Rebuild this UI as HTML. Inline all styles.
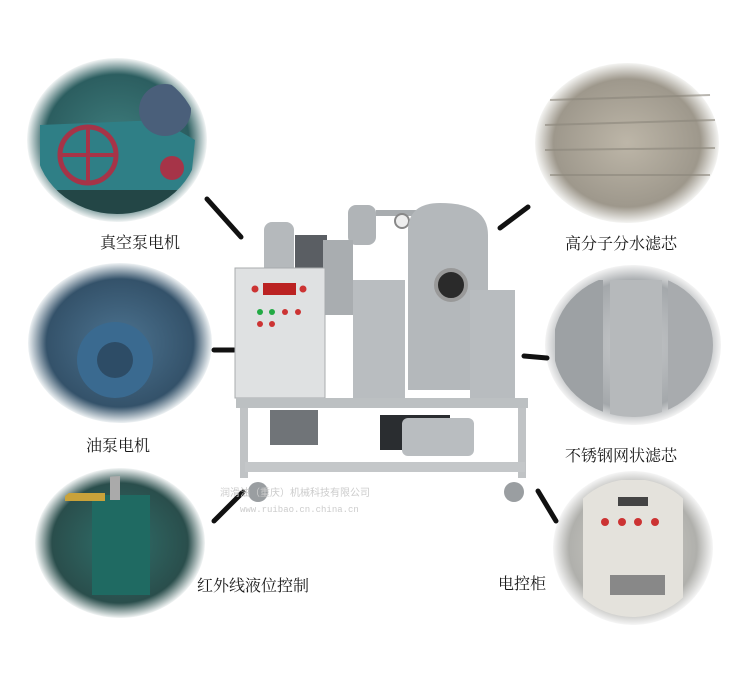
<!DOCTYPE html>
<html><head><meta charset="utf-8"><style>
html,body{margin:0;padding:0;background:#fff;}
body{width:732px;height:684px;overflow:hidden;position:relative;}
.l{position:absolute;font-size:16px;color:#1a1a1a;white-space:nowrap;font-family:"Liberation Serif","Noto Serif CJK SC",serif;}
</style></head><body>
<svg width="732" height="684" viewBox="0 0 732 684" style="position:absolute;left:0;top:0">
<defs>
<radialGradient id="g1"><stop offset="0" stop-color="#3d7c7c"/><stop offset="0.8" stop-color="#2c5e60"/><stop offset="1" stop-color="#f2f5f5"/></radialGradient>
<radialGradient id="g2"><stop offset="0" stop-color="#4c7390"/><stop offset="0.8" stop-color="#34526a"/><stop offset="1" stop-color="#eef2f4"/></radialGradient>
<radialGradient id="g3"><stop offset="0" stop-color="#2f6f6a"/><stop offset="0.8" stop-color="#2a4e4c"/><stop offset="1" stop-color="#f2f5f5"/></radialGradient>
<radialGradient id="g4"><stop offset="0" stop-color="#bdb6a8"/><stop offset="0.8" stop-color="#9e988c"/><stop offset="1" stop-color="#f4f4f2"/></radialGradient>
<radialGradient id="g5"><stop offset="0" stop-color="#c8cacc"/><stop offset="0.8" stop-color="#a4a8ab"/><stop offset="1" stop-color="#f4f4f4"/></radialGradient>
<radialGradient id="g6"><stop offset="0" stop-color="#d4d2cc"/><stop offset="0.8" stop-color="#b0b0ac"/><stop offset="1" stop-color="#f6f6f6"/></radialGradient>
<clipPath id="c1"><ellipse cx="117" cy="140" rx="82" ry="74"/></clipPath>
<clipPath id="c2"><ellipse cx="120" cy="343" rx="84" ry="72"/></clipPath>
<clipPath id="c3"><ellipse cx="120" cy="543" rx="77" ry="67"/></clipPath>
<clipPath id="c5"><ellipse cx="633" cy="345" rx="80" ry="72"/></clipPath>
<clipPath id="c6"><ellipse cx="633" cy="548" rx="72" ry="69"/></clipPath>
</defs>
<ellipse cx="117" cy="140" rx="90" ry="82" fill="url(#g1)"/>
<g clip-path="url(#c1)">
<path d="M40 125 L160 120 L195 140 L190 190 L40 190 Z" fill="#2f7f86"/>
<circle cx="88" cy="155" r="28" fill="none" stroke="#a63448" stroke-width="5"/>
<line x1="60" y1="155" x2="116" y2="155" stroke="#a63448" stroke-width="4"/>
<line x1="88" y1="127" x2="88" y2="183" stroke="#a63448" stroke-width="4"/>
<circle cx="172" cy="168" r="12" fill="#a63448"/>
<circle cx="165" cy="110" r="26" fill="#4a5f7a"/>
<rect x="40" y="190" width="160" height="30" fill="#234646"/>
</g>
<ellipse cx="120" cy="343" rx="92" ry="80" fill="url(#g2)"/>
<g clip-path="url(#c2)"><circle cx="115" cy="360" r="38" fill="#3a6a90"/><circle cx="115" cy="360" r="18" fill="#2d4c66"/></g>
<ellipse cx="120" cy="543" rx="85" ry="75" fill="url(#g3)"/>
<g clip-path="url(#c3)"><rect x="92" y="495" width="58" height="100" fill="#1f6a62"/><rect x="65" y="493" width="40" height="8" fill="#c9a23a"/><rect x="110" y="470" width="10" height="30" fill="#aaa"/></g>
<ellipse cx="627" cy="143" rx="92" ry="80" fill="url(#g4)"/>
<g stroke="#8c877c" stroke-width="2" opacity="0.6"><line x1="550" y1="100" x2="710" y2="95"/><line x1="545" y1="125" x2="715" y2="120"/><line x1="545" y1="150" x2="715" y2="148"/><line x1="550" y1="175" x2="710" y2="175"/></g>
<ellipse cx="633" cy="345" rx="88" ry="80" fill="url(#g5)"/>
<g clip-path="url(#c5)"><rect x="555" y="280" width="48" height="140" fill="#9da1a4"/><rect x="610" y="280" width="52" height="145" fill="#b6b9bb"/><rect x="668" y="280" width="48" height="140" fill="#a8abae"/></g>
<ellipse cx="633" cy="548" rx="80" ry="77" fill="url(#g6)"/>
<g clip-path="url(#c6)"><rect x="583" y="480" width="100" height="140" fill="#e4e2dc"/>
<rect x="618" y="497" width="30" height="9" fill="#444"/>
<g fill="#c33"><circle cx="605" cy="522" r="4"/><circle cx="622" cy="522" r="4"/><circle cx="638" cy="522" r="4"/><circle cx="655" cy="522" r="4"/></g>
<rect x="610" y="575" width="55" height="20" fill="#888"/></g>
<g stroke="#111" stroke-width="5" stroke-linecap="round">
<line x1="207" y1="199" x2="241" y2="237"/>
<line x1="214" y1="350" x2="234" y2="350"/>
<line x1="214" y1="521" x2="243" y2="492"/>
<line x1="500" y1="228" x2="528" y2="207"/>
<line x1="524" y1="356" x2="547" y2="358"/>
<line x1="538" y1="491" x2="556" y2="521"/>
</g>
<g>
<rect x="264" y="222" width="30" height="60" rx="8" fill="#b5b9bc"/>
<rect x="295" y="235" width="32" height="35" fill="#5a5e63"/>
<rect x="348" y="205" width="28" height="40" rx="8" fill="#b0b4b7"/>
<rect x="376" y="210" width="58" height="6" fill="#a8acaf"/>
<circle cx="402" cy="221" r="7" fill="#eee" stroke="#888" stroke-width="2"/>
<path d="M408 228 Q410 203 440 203 Q488 203 488 235 L488 390 L408 390 Z" fill="#b4b8bb"/>
<circle cx="451" cy="285" r="15" fill="#2a2a2a" stroke="#999" stroke-width="4"/>
<rect x="323" y="240" width="30" height="75" fill="#a9adb0"/>
<rect x="353" y="280" width="52" height="120" fill="#b9bdc0"/>
<rect x="470" y="290" width="45" height="110" fill="#b8bcbf"/>
<rect x="235" y="268" width="90" height="130" fill="#dfe1e2" stroke="#a8acae"/>
<rect x="263" y="283" width="33" height="12" fill="#b22"/>
<g fill="#c33"><circle cx="255" cy="289" r="3.5"/><circle cx="303" cy="289" r="3.5"/><circle cx="285" cy="312" r="3"/><circle cx="298" cy="312" r="3"/><circle cx="260" cy="324" r="3"/><circle cx="272" cy="324" r="3"/></g>
<g fill="#2a4"><circle cx="260" cy="312" r="3"/><circle cx="272" cy="312" r="3"/></g>
<rect x="236" y="398" width="292" height="10" fill="#bcc0c2"/>
<rect x="240" y="408" width="8" height="70" fill="#c0c3c5"/>
<rect x="518" y="408" width="8" height="70" fill="#c0c3c5"/>
<rect x="245" y="462" width="280" height="10" fill="#c4c7c9"/>
<rect x="270" y="410" width="48" height="35" fill="#707478"/>
<rect x="380" y="415" width="70" height="35" fill="#2a2d30"/>
<rect x="402" y="418" width="72" height="38" rx="6" fill="#b9bdc0"/>
<circle cx="258" cy="492" r="10" fill="#9a9ea1"/>
<circle cx="514" cy="492" r="10" fill="#9a9ea1"/>
</g>
<text x="220" y="496" font-size="10" fill="#ccc" font-family="Liberation Sans,Noto Sans CJK SC,sans-serif">润滑油（重庆）机械科技有限公司</text>
<text x="240" y="512" font-size="9" fill="#ccc" font-family="Liberation Mono,monospace">www.ruibao.cn.china.cn</text>
</svg>
<div class="l" style="left:100px;top:230px">真空泵电机</div>
<div class="l" style="left:86px;top:433px">油泵电机</div>
<div class="l" style="left:197px;top:573px">红外线液位控制</div>
<div class="l" style="left:565px;top:231px">高分子分水滤芯</div>
<div class="l" style="left:565px;top:443px">不锈钢网状滤芯</div>
<div class="l" style="left:498px;top:571px">电控柜</div>
</body></html>
